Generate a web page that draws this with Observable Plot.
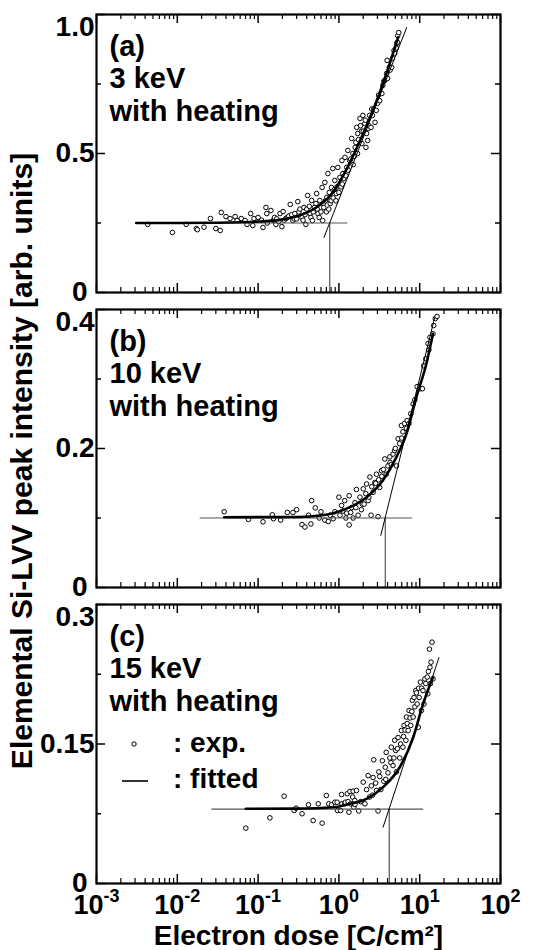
<!DOCTYPE html>
<html><head><meta charset="utf-8">
<script src="https://cdn.jsdelivr.net/npm/d3@7"></script>
<script src="https://cdn.jsdelivr.net/npm/@observablehq/plot@0.6"></script>
<style>
body{margin:0;background:#fff;}
#wrap{position:relative;width:533px;height:950px;overflow:hidden;font-family:Arial,"Liberation Sans",sans-serif;font-weight:bold;color:#000;}
#wrap > svg{position:absolute;left:0;overflow:visible;}
#ylab{position:absolute;left:22px;top:461px;transform:translate(-50%,-50%) rotate(-90deg);white-space:nowrap;font-size:30px;font-weight:bold;}
</style></head><body><div id="wrap"><div id="ylab"></div></div>
<script>
// ---------- data ----------
const xTickValues = [1e-3, 1e-2, 1e-1, 1, 10, 100];
const xTickExps = ["-3", "-2", "-1", "0", "1", "2"];
const xTitle = "Electron dose [C/cm²]";
const yTitle = "Elemental Si-LVV peak intensity [arb. units]";

// panel (a)
const yTicksA = [0, 0.5, 1.0];
const yTickTextA = ["0", "0.5", "1.0"];
const yMinorA = [0.25, 0.75];
const pointsA = [[0.0043,0.245],[0.0087,0.216],[0.0129,0.245],[0.0172,0.230],[0.0177,0.226],[0.0214,0.235],[0.0257,0.266],[0.030,0.230],[0.034,0.223],[0.035,0.288],[0.040,0.273],[0.045,0.266],[0.052,0.273],[0.055,0.259],[0.062,0.266],[0.069,0.259],[0.073,0.245],[0.081,0.284],[0.086,0.241],[0.089,0.266],[0.100,0.270],[0.110,0.260],[0.115,0.234],[0.125,0.306],[0.128,0.284],[0.130,0.250],[0.144,0.295],[0.153,0.259],[0.160,0.270],[0.166,0.245],[0.170,0.265],[0.180,0.255],[0.187,0.284],[0.197,0.237],[0.204,0.291],[0.210,0.260],[0.220,0.266],[0.230,0.270],[0.240,0.275],[0.250,0.317],[0.260,0.280],[0.270,0.259],[0.280,0.265],[0.285,0.284],[0.300,0.265],[0.310,0.327],[0.320,0.290],[0.330,0.300],[0.350,0.270],[0.360,0.260],[0.370,0.306],[0.380,0.280],[0.390,0.245],[0.400,0.300],[0.410,0.349],[0.430,0.310],[0.440,0.284],[0.450,0.270],[0.460,0.331],[0.470,0.259],[0.480,0.290],[0.500,0.306],[0.520,0.320],[0.530,0.356],[0.540,0.300],[0.550,0.284],[0.570,0.270],[0.580,0.331],[0.600,0.290],[0.620,0.378],[0.630,0.259],[0.640,0.320],[0.650,0.306],[0.670,0.396],[0.680,0.330],[0.700,0.290],[0.710,0.342],[0.730,0.428],[0.750,0.300],[0.760,0.360],[0.780,0.320],[0.800,0.330],[0.810,0.378],[0.840,0.446],[0.850,0.340],[0.880,0.370],[0.890,0.403],[0.920,0.330],[0.930,0.356],[0.950,0.380],[0.970,0.450],[1.00,0.360],[1.03,0.414],[1.06,0.380],[1.09,0.475],[1.10,0.390],[1.12,0.428],[1.15,0.410],[1.19,0.486],[1.22,0.420],[1.25,0.450],[1.29,0.511],[1.30,0.440],[1.36,0.475],[1.40,0.480],[1.44,0.554],[1.49,0.500],[1.50,0.460],[1.55,0.490],[1.59,0.522],[1.62,0.540],[1.66,0.594],[1.70,0.500],[1.71,0.572],[1.75,0.550],[1.82,0.626],[1.85,0.600],[1.90,0.580],[1.92,0.536],[1.98,0.637],[2.00,0.580],[2.10,0.608],[2.12,0.620],[2.16,0.522],[2.20,0.572],[2.27,0.547],[2.30,0.590],[2.35,0.600],[2.40,0.637],[2.50,0.594],[2.55,0.660],[2.60,0.637],[2.70,0.660],[2.80,0.612],[2.90,0.655],[3.00,0.680],[3.10,0.710],[3.20,0.690],[3.40,0.716],[3.50,0.745],[3.60,0.760],[3.70,0.763],[3.90,0.788],[3.95,0.835],[4.00,0.770],[4.20,0.810],[4.30,0.800],[4.50,0.810],[4.60,0.842],[4.80,0.870],[4.90,0.860],[5.10,0.880],[5.20,0.896],[5.30,0.900],[5.35,0.924],[5.50,0.935]];
const fitA = [[0.0031,0.25],[0.01,0.25],[0.03,0.251],[0.1,0.255],[0.2,0.263],[0.33,0.278],[0.58,0.315],[0.84,0.36],[1.25,0.445],[1.82,0.545],[2.6,0.65],[3.9,0.79],[5.4,0.918]];
const baseA = 0.25, baseFromA = 0.0031, baseToA = 1.29, crossA = 0.77;
const tangentA = [[0.653,0.198],[6.9,0.953]];

// panel (b)
const yTicksB = [0, 0.2, 0.4];
const yTickTextB = ["0", "0.2", "0.4"];
const yMinorB = [0.1, 0.3];
const pointsB = [[0.038,0.109],[0.076,0.098],[0.115,0.0945],[0.15,0.1046],[0.155,0.099],[0.19,0.097],[0.23,0.108],[0.27,0.108],[0.30,0.112],[0.35,0.0906],[0.38,0.087],[0.42,0.104],[0.45,0.0915],[0.46,0.125],[0.51,0.1146],[0.57,0.1],[0.60,0.109],[0.67,0.097],[0.74,0.095],[0.78,0.104],[0.85,0.099],[0.89,0.109],[1.0,0.13],[1.03,0.104],[1.08,0.118],[1.12,0.11],[1.18,0.125],[1.22,0.1],[1.25,0.107],[1.34,0.132],[1.34,0.09],[1.40,0.108],[1.44,0.115],[1.5,0.1],[1.58,0.122],[1.62,0.115],[1.65,0.141],[1.73,0.104],[1.82,0.13],[1.9,0.112],[1.95,0.12],[2.0,0.142],[2.05,0.12],[2.15,0.135],[2.2,0.149],[2.3,0.125],[2.35,0.13],[2.42,0.159],[2.5,0.104],[2.55,0.145],[2.65,0.137],[2.78,0.151],[2.85,0.15],[2.92,0.163],[3.05,0.102],[3.1,0.155],[3.2,0.144],[3.36,0.168],[3.4,0.16],[3.55,0.17],[3.7,0.185],[3.85,0.163],[4.05,0.175],[4.27,0.188],[4.3,0.18],[4.45,0.177],[4.68,0.192],[4.9,0.197],[5.0,0.2],[5.15,0.175],[5.4,0.214],[5.65,0.207],[5.94,0.233],[6.0,0.215],[6.2,0.224],[6.5,0.236],[6.85,0.229],[7.0,0.24],[7.38,0.236],[7.75,0.25],[8.3,0.264],[8.7,0.27],[9.3,0.289],[10.2,0.286],[10.8,0.286],[11.2,0.319],[11.9,0.329],[12.7,0.351],[13.0,0.342],[13.4,0.36],[14.6,0.365],[14.9,0.377],[15.6,0.387],[16.4,0.39]];
const fitB = [[0.038,0.101],[0.33,0.1015],[0.58,0.1036],[0.85,0.107],[1.37,0.1156],[2.2,0.13],[3.5,0.154],[5.15,0.1875],[6.85,0.221],[9.1,0.274],[12.1,0.322],[14.6,0.365]];
const baseB = 0.1, baseFromB = 0.0192, baseToB = 8.2, crossB = 3.75;
const tangentB = [[3.3,0.075],[15.3,0.388]];

// panel (c)
const yTicksC = [0, 0.15, 0.3];
const yTickTextC = ["0", "0.15", "0.3"];
const yMinorC = [0.075, 0.225];
const pointsC = [[0.0705,0.0595],[0.14,0.0706],[0.21,0.0939],[0.28,0.0785],[0.295,0.081],[0.35,0.075],[0.42,0.0846],[0.48,0.0677],[0.555,0.0857],[0.62,0.0649],[0.70,0.0946],[0.75,0.0857],[0.81,0.0846],[0.89,0.0874],[0.95,0.0874],[0.96,0.0785],[1.05,0.0785],[1.08,0.0957],[1.09,0.0857],[1.18,0.0857],[1.2,0.0874],[1.27,0.0965],[1.3,0.088],[1.33,0.0767],[1.37,0.0989],[1.39,0.0857],[1.48,0.093],[1.5,0.0993],[1.53,0.082],[1.57,0.0892],[1.58,0.085],[1.65,0.1],[1.76,0.078],[1.86,0.088],[2.0,0.109],[2.1,0.0857],[2.2,0.101],[2.3,0.116],[2.4,0.093],[2.52,0.105],[2.6,0.095],[2.65,0.114],[2.7,0.133],[2.85,0.108],[2.92,0.1],[3.05,0.078],[3.12,0.12],[3.2,0.115],[3.3,0.101],[3.45,0.132],[3.6,0.11],[3.75,0.125],[3.8,0.112],[3.85,0.141],[4.05,0.119],[4.27,0.135],[4.4,0.13],[4.45,0.1466],[4.68,0.1268],[4.8,0.135],[4.9,0.154],[5.05,0.143],[5.15,0.12],[5.3,0.145],[5.4,0.157],[5.66,0.135],[5.8,0.15],[5.94,0.1645],[6.2,0.1466],[6.3,0.158],[6.4,0.17],[6.6,0.165],[6.75,0.154],[6.85,0.179],[7.0,0.172],[7.2,0.1645],[7.38,0.186],[7.6,0.178],[7.75,0.17],[8.0,0.185],[8.1,0.197],[8.3,0.179],[8.5,0.2],[8.7,0.19],[8.95,0.2075],[9.1,0.205],[9.3,0.193],[9.6,0.168],[9.7,0.21],[9.85,0.2],[10.2,0.2165],[10.5,0.186],[10.6,0.21],[11.0,0.2075],[11.3,0.193],[11.6,0.22],[11.9,0.215],[12.4,0.222],[12.6,0.204],[12.8,0.228],[13.2,0.252],[13.4,0.2325],[13.6,0.215],[13.8,0.238],[14.2,0.2595],[14.6,0.22]];
const fitC = [[0.0705,0.0803],[0.3,0.0805],[0.85,0.082],[1.37,0.0857],[2.2,0.091],[3.52,0.1036],[5.66,0.125],[8.3,0.157],[11.0,0.193],[14.6,0.222]];
const baseC = 0.08, baseFromC = 0.0268, baseToC = 11.2, crossC = 4.2;
const tangentC = [[3.52,0.0605],[17.3,0.243]];

const panelNames = ["(a)", "(b)", "(c)"];
const panelEnergies = ["3 keV", "10 keV", "15 keV"];
const panelNote = "with heating";
const legendLabels = [": exp.", ": fitted"];

// ---------- layout ----------
const FONT = 'Arial, "Liberation Sans", sans-serif';
const SVGNS = "http://www.w3.org/2000/svg";
const wrap = document.getElementById("wrap");
const allX = d3.scaleLog().domain([1e-3, 1e2]).ticks();
const minorX = allX.filter(v => !xTickValues.some(t => Math.abs(t - v) / t < 1e-9));

const panels = [
  {top: 0,   height: 300, mt: 14, mb: 8,  ymax: 1.0, ticks: yTicksA, tickText: yTickTextA, minor: yMinorA, pts: pointsA, fit: fitA, base: baseA, bFrom: baseFromA, bTo: baseToA, cross: crossA, tangent: tangentA},
  {top: 300, height: 295, mt: 9,  mb: 8,  ymax: 0.4, ticks: yTicksB, tickText: yTickTextB, minor: yMinorB, pts: pointsB, fit: fitB, base: baseB, bFrom: baseFromB, bTo: baseToB, cross: crossB, tangent: tangentB},
  {top: 595, height: 355, mt: 9,  mb: 67, ymax: 0.3, ticks: yTicksC, tickText: yTickTextC, minor: yMinorC, pts: pointsC, fit: fitC, base: baseC, bFrom: baseFromC, bTo: baseToC, cross: crossC, tangent: tangentC}
];

const W = 404;
panels.forEach((p, k) => {
  const H = p.height - p.mt - p.mb;
  const tickLab = p.ticks.map((v, i) => ({v, t: p.tickText[i], i}));
  const last = p.ticks.length - 1;
  const marks = [
    Plot.ruleX(xTickValues, {insetTop: H - 9, strokeWidth: 1.5}),
    Plot.ruleX(xTickValues, {insetBottom: H - 9, strokeWidth: 1.5}),
    Plot.ruleX(minorX, {insetTop: H - 5, strokeWidth: 1.2}),
    Plot.ruleX(minorX, {insetBottom: H - 5, strokeWidth: 1.2}),
    Plot.ruleY(p.ticks, {insetRight: W - 9, strokeWidth: 1.5}),
    Plot.ruleY(p.ticks, {insetLeft: W - 9, strokeWidth: 1.5}),
    Plot.ruleY(p.minor, {insetRight: W - 5, strokeWidth: 1.5}),
    Plot.ruleY(p.minor, {insetLeft: W - 5, strokeWidth: 1.5}),
    Plot.text(tickLab.filter(d => d.i === 0), {y: "v", text: "t", frameAnchor: "left", textAnchor: "end", dx: -9, fontSize: 28}),
    Plot.text(tickLab.filter(d => d.i > 0 && d.i < last), {y: "v", text: "t", frameAnchor: "left", textAnchor: "end", dx: -2, fontSize: 28}),
    Plot.text(tickLab.filter(d => d.i === last), {y: "v", text: "t", frameAnchor: "left", textAnchor: "end", dx: -2, dy: 13, fontSize: 28}),
    Plot.dot(p.pts, {x: d => d[0], y: d => d[1], r: 2.3, stroke: "black", fill: "white", strokeWidth: 1}),
    Plot.ruleY([{y: p.base, x1: p.bFrom, x2: p.bTo}], {y: "y", x1: "x1", x2: "x2", stroke: "#555", strokeWidth: 1.2}),
    Plot.ruleX([{x: p.cross, y1: 0, y2: p.base}], {x: "x", y1: "y1", y2: "y2", stroke: "#555", strokeWidth: 1.2}),
    Plot.line(p.tangent, {x: d => d[0], y: d => d[1], stroke: "black", strokeWidth: 1}),
    Plot.line(p.fit, {x: d => d[0], y: d => d[1], stroke: "black", strokeWidth: 2.6, curve: "monotone-x"}),
    Plot.text([`${panelNames[k]}\n${panelEnergies[k]}\n${panelNote}`], {frameAnchor: "top-left", textAnchor: "start", lineAnchor: "top", dx: 13, dy: 18, fontSize: 29, lineHeight: 1.12}),
    Plot.frame({strokeWidth: 2.2})
  ];
  if (k === 2) {
    marks.push(
      Plot.text(xTickValues, {x: d => d, text: (d, i) => "10^" + xTickExps[i], frameAnchor: "bottom", lineAnchor: "bottom", textAnchor: "middle", dy: 30, fontSize: 27}),
      Plot.text([xTitle], {frameAnchor: "bottom", lineAnchor: "bottom", textAnchor: "middle", dy: 61, fontSize: 28})
    );
  }
  const svg = Plot.plot({
    width: 533, height: p.height,
    marginLeft: 96, marginRight: 33, marginTop: p.mt, marginBottom: p.mb,
    x: {type: "log", domain: [1e-3, 1e2], axis: null},
    y: {domain: [0, p.ymax], axis: null},
    style: {fontFamily: FONT, fontWeight: "bold", fontSize: "26px", color: "black", background: "transparent", overflow: "visible"},
    marks
  });
  svg.style.top = p.top + "px";
  wrap.appendChild(svg);

  if (k === 2) {
    svg.querySelectorAll("text").forEach(t => {
      if (!t.textContent.includes("^")) return;
      const [b, e] = t.textContent.split("^");
      while (t.firstChild) t.removeChild(t.firstChild);
      t.appendChild(document.createTextNode(b));
      const ts = document.createElementNS(SVGNS, "tspan");
      ts.setAttribute("dy", "-12");
      ts.setAttribute("font-size", "18");
      ts.textContent = e;
      t.appendChild(ts);
    });
    const g = d3.select(svg).append("g").attr("aria-label", "legend").attr("text-anchor", "start");
    g.append("circle").attr("cx", 134).attr("cy", 744 - 595).attr("r", 2.2).attr("fill", "white").attr("stroke", "black").attr("stroke-width", 1);
    g.append("line").attr("x1", 122).attr("x2", 148).attr("y1", 781 - 595).attr("y2", 781 - 595).attr("stroke", "black").attr("stroke-width", 1.6);
    g.append("text").attr("x", 173).attr("y", 752 - 595).attr("font-size", 28).attr("font-weight", "bold").attr("text-anchor", "start").text(legendLabels[0]);
    g.append("text").attr("x", 173).attr("y", 788 - 595).attr("font-size", 28).attr("font-weight", "bold").attr("text-anchor", "start").text(legendLabels[1]);
  }
});
document.getElementById("ylab").textContent = yTitle;
</script>
</body></html>
